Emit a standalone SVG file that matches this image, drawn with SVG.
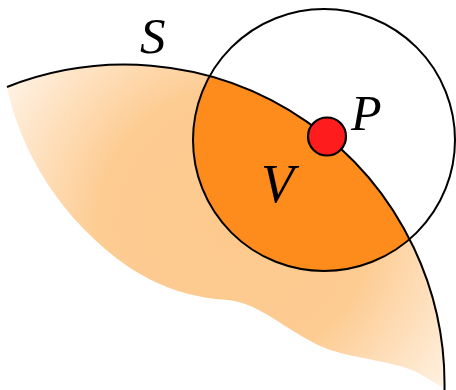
<svg xmlns="http://www.w3.org/2000/svg" width="456" height="390" viewBox="0 0 456 390">
  <style>
    .lbl { font-family: "Liberation Serif", "DejaVu Serif", serif; font-style: italic; fill: #000; }
    .edge { fill: none; stroke: #000; stroke-width: 2; }
  </style>
  <defs>
    <radialGradient id="peach" gradientUnits="userSpaceOnUse" cx="235" cy="225" r="275">
      <stop offset="0" stop-color="#FDC98D"/>
      <stop offset="0.5" stop-color="#FDCC93"/>
      <stop offset="1" stop-color="#FFF4E8"/>
    </radialGradient>
    <clipPath id="regionClip">
      <path d="M7,87 A320,320 0 0 1 444.5,388 C440,386 432,381 420,374 C400,362 362,360 330,350 C290,335 262,303 228,300 C195,298 165,290 130,268 C60,220 20,150 7,87 Z"/>
    </clipPath>
  </defs>

  <g id="region">
    <path d="M7,87 A320,320 0 0 1 444.5,388 C440,386 432,381 420,374 C400,362 362,360 330,350 C290,335 262,303 228,300 C195,298 165,290 130,268 C60,220 20,150 7,87 Z" fill="url(#peach)"/>
  </g>

  <g id="intersection">
    <circle cx="324" cy="140" r="131" fill="#FE8C1C" clip-path="url(#regionClip)"/>
  </g>

  <g id="connectors">
    <path id="surface" class="edge" d="M7,87 A320,320 0 0 1 444.5,390"/>
    <circle id="ball" class="edge" cx="324" cy="140" r="131" stroke-width="2.4"/>
  </g>

  <g id="point">
    <circle cx="327" cy="136.5" r="19" fill="#FE1C1C" stroke="#000" stroke-width="2.2"/>
  </g>

  <g id="labels">
    <text class="lbl" x="140" y="53" font-size="51">S</text>
    <text class="lbl" x="351" y="130" font-size="50">P</text>
    <text class="lbl" x="261" y="202" font-size="54">V</text>
  </g>
</svg>
